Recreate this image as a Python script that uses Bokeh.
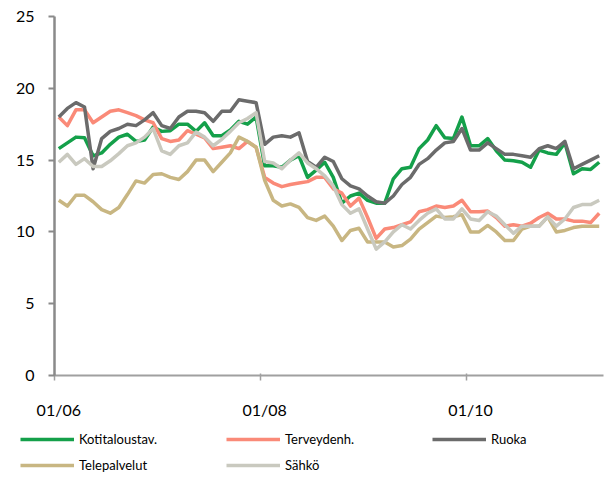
import numpy as np
from bokeh.plotting import figure
from bokeh.layouts import column
from bokeh.models import FixedTicker, Legend, LegendItem, Range1d, ColumnDataSource
from bokeh.embed import file_html
from bokeh.resources import INLINE

series_names = ["Kotitaloustav.", "Terveydenh.", "Ruoka", "Telepalvelut", "Sähkö"]

kotitaloustav = [15.8, 16.2, 16.6, 16.55, 15.3, 15.5, 16.1, 16.6, 16.8, 16.3, 16.4, 17.3,
                 17.0, 17.05, 17.5, 17.5, 17.0, 17.6, 16.7, 16.7, 17.1, 17.7, 17.5, 18.0,
                 14.6, 14.6, 14.5, 15.0, 15.3, 13.8, 14.3, 14.85, 13.8, 12.0, 12.5, 12.7,
                 12.2, 12.0, 12.0, 13.7, 14.4, 14.5, 15.8, 16.4, 17.4, 16.55, 16.5, 18.0,
                 16.0, 16.0, 16.5, 15.65, 15.0, 14.95, 14.85, 14.5, 15.7, 15.5, 15.4, 16.2,
                 14.05, 14.4, 14.35, 14.85]
terveydenh = [18.0, 17.4, 18.5, 18.5, 17.6, 18.0, 18.4, 18.5, 18.3, 18.1, 17.8, 17.6,
              16.5, 16.3, 16.4, 17.05, 16.8, 16.55, 15.8, 15.9, 16.0, 15.8, 16.3, 15.9,
              13.8, 13.4, 13.15, 13.3, 13.4, 13.5, 13.8, 13.8, 13.0, 12.7, 11.8, 12.35,
              11.0, 9.55, 10.2, 10.3, 10.5, 10.7, 11.4, 11.55, 11.8, 11.7, 11.8, 12.2,
              11.4, 11.4, 11.45, 11.0, 10.4, 10.5, 10.4, 10.6, 11.0, 11.3, 10.9, 10.9,
              10.75, 10.75, 10.65, 11.3]
ruoka = [18.0, 18.6, 19.0, 18.7, 14.4, 16.5, 17.0, 17.2, 17.5, 17.4, 17.8, 18.3,
         17.4, 17.2, 18.0, 18.4, 18.4, 18.3, 17.7, 18.4, 18.4, 19.2, 19.1, 19.0,
         16.1, 16.6, 16.7, 16.6, 16.9, 14.9, 14.5, 15.2, 14.9, 13.7, 13.2, 13.0,
         12.5, 12.1, 12.0, 12.5, 13.3, 13.8, 14.7, 15.1, 15.7, 16.2, 16.3, 17.2,
         15.7, 15.7, 16.2, 15.8, 15.4, 15.4, 15.3, 15.2, 15.8, 16.0, 15.8, 16.3,
         14.4, 14.7, 15.0, 15.3]
telepalvelut = [12.2, 11.8, 12.55, 12.55, 12.1, 11.55, 11.3, 11.7, 12.6, 13.55, 13.4, 14.0,
                14.05, 13.8, 13.65, 14.2, 15.0, 15.0, 14.2, 14.85, 15.5, 16.6, 16.3, 15.9,
                13.6, 12.2, 11.8, 11.95, 11.7, 11.0, 10.8, 11.1, 10.4, 9.4, 10.1, 10.25,
                9.3, 9.3, 9.3, 8.95, 9.05, 9.5, 10.2, 10.65, 11.1, 11.0, 11.05, 11.2,
                10.0, 10.0, 10.45, 10.0, 9.4, 9.4, 10.2, 10.4, 10.4, 11.05, 10.0, 10.1,
                10.3, 10.4, 10.4, 10.4]
sahko = [14.85, 15.4, 14.7, 15.1, 14.55, 14.55, 14.95, 15.45, 16.0, 16.2, 16.6, 17.2,
         15.65, 15.4, 16.0, 16.2, 16.95, 16.6, 16.0, 16.45, 17.0, 17.6, 17.9, 18.3,
         14.9, 14.8, 14.4, 15.0, 15.5, 14.8, 14.4, 13.9, 13.2, 11.9, 11.3, 11.6,
         10.2, 8.8, 9.3, 10.0, 10.5, 10.2, 10.8, 11.3, 11.6, 10.9, 10.9, 11.6,
         10.9, 10.8, 11.4, 11.1, 10.5, 9.9, 10.4, 10.4, 10.4, 11.05, 10.4, 10.9,
         11.7, 11.9, 11.9, 12.2]

x_tick_labels = {0: "01/06", 24: "01/08", 48: "01/10"}
y_ticks = [0, 5, 10, 15, 20, 25]

colors = ["#14A04A", "#FA8A78", "#6B6B6B", "#C8B682", "#C9C9BF"]
all_series = [kotitaloustav, terveydenh, ruoka, telepalvelut, sahko]

n = len(ruoka)
x = np.arange(n)

FONT = "Lato"
W = 607

p = figure(width=W, height=421, output_backend="svg", toolbar_location=None,
           x_range=Range1d(-0.5, n - 0.5), y_range=Range1d(0, 25),
           min_border_left=54, min_border_right=4, min_border_top=16, min_border_bottom=38)
p.outline_line_color = None
p.xgrid.visible = False
p.ygrid.visible = False

# y axis
p.yaxis.ticker = FixedTicker(ticks=y_ticks)
p.yaxis.axis_line_color = "#8A8A8A"
p.yaxis.axis_line_width = 2.5
p.yaxis.major_tick_line_color = "#8A8A8A"
p.yaxis.major_tick_line_width = 2
p.yaxis.major_tick_out = 6
p.yaxis.major_tick_in = 0
p.yaxis.minor_tick_line_color = None
p.yaxis.major_label_standoff = 14
p.yaxis.major_label_text_font = FONT
p.yaxis.major_label_text_font_size = "16px"
p.yaxis.major_label_text_color = "#000000"

# x axis
p.xaxis.ticker = FixedTicker(ticks=list(x_tick_labels.keys()),
                             minor_ticks=[k - 0.5 for k in x_tick_labels.keys()])
p.xaxis.major_label_overrides = x_tick_labels
p.xaxis.axis_line_color = "#A0A0A0"
p.xaxis.axis_line_width = 2
p.xaxis.major_tick_line_color = None
p.xaxis.major_tick_out = 0
p.xaxis.major_tick_in = 0
p.xaxis.minor_tick_line_color = "#A0A0A0"
p.xaxis.minor_tick_line_width = 1.5
p.xaxis.minor_tick_out = 5
p.xaxis.minor_tick_in = 2
p.xaxis.major_label_standoff = 19
p.xaxis.major_label_text_font = FONT
p.xaxis.major_label_text_font_size = "16px"
p.xaxis.major_label_text_color = "#000000"

for name, vals, col in zip(series_names, all_series, colors):
    src = ColumnDataSource(dict(x=x, y=vals))
    p.line("x", "y", source=src, line_color=col, line_width=3.5, line_join="round")

# legend strip below the chart
lg = figure(width=W, height=58, output_backend="svg", toolbar_location=None,
            x_range=Range1d(0, 1), y_range=Range1d(0, 1),
            x_axis_type=None, y_axis_type=None,
            min_border_left=0, min_border_right=0, min_border_top=0, min_border_bottom=0)
lg.outline_line_color = None
lg.xgrid.visible = False
lg.ygrid.visible = False
p.frame_align = False
lg.frame_align = False

items = []
for name, col in zip(series_names, colors):
    r = lg.line(x=[float("nan")], y=[float("nan")], line_color=col, line_width=3.5)
    items.append(LegendItem(label=name, renderers=[r]))

legend = Legend(items=items, ncols=3, orientation="horizontal", location=(20, 4),
                glyph_width=54, glyph_height=20, label_height=20,
                label_width=141, label_standoff=5, spacing=6,
                padding=6, margin=0, border_line_color=None,
                background_fill_alpha=0,
                label_text_font=FONT, label_text_font_size="13px",
                label_text_color="#000000")
lg.add_layout(legend, "center")

layout = column(p, lg, spacing=0)
open("out.html", "w").write(file_html(layout, INLINE))
